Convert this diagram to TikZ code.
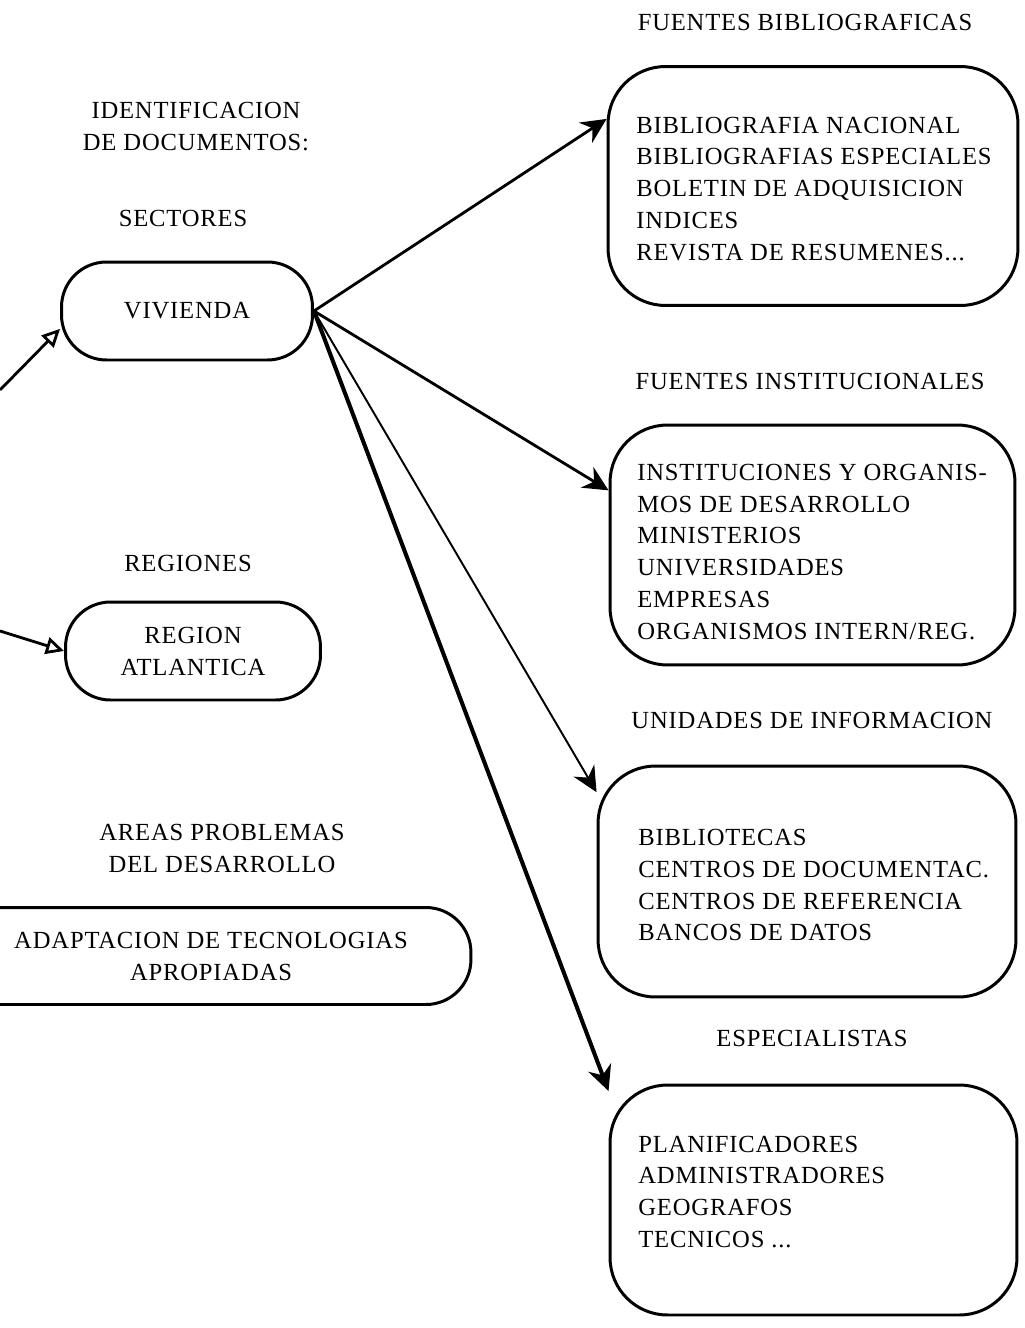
\documentclass[tikz,border=0pt]{standalone}
\usepackage{fontspec}
\setmainfont{Liberation Serif}[LetterSpace=3.4]
\usetikzlibrary{arrows.meta}

\tikzset{
  fuente/.style={draw, line width=1.7pt, rounded corners=1.15cm, inner sep=0pt},
  sector/.style={draw, line width=1.7pt, rounded corners=0.9cm, align=center, inner sep=0pt},
  titulo/.style={align=center, inner sep=0pt},
  lista/.style={align=left, anchor=west, inner sep=0pt},
  flecha/.style={line width=1.6pt, -{Stealth[length=0.5cm,width=0.48cm]}},
  entrada/.style={line width=1.6pt, -{Triangle[open,length=0.36cm,width=0.34cm,fill=white]}},
}

\begin{document}
\begin{tikzpicture}[x=0.02cm, y=-0.02cm, font=\fontsize{14}{18.2}\selectfont]
  \clip (0,0) rectangle (1024,1328);

  % left column: sectors, regions, problem areas
  \node[titulo] (ident) at (196,127) {IDENTIFICACION\\DE DOCUMENTOS:};
  \node[titulo] (sectores) at (183,218) {SECTORES};
  \node[sector, minimum width=5.02cm, minimum height=1.96cm] (vivienda) at (187,311) {VIVIENDA};

  \node[titulo] (regiones) at (188,563) {REGIONES};
  \node[sector, minimum width=5.1cm, minimum height=1.96cm] (region) at (193,651) {REGION\\ATLANTICA};

  \node[titulo] (areas) at (222,848) {AREAS PROBLEMAS\\DEL DESARROLLO};
  \node[sector, minimum width=10.4cm, minimum height=1.94cm] (adaptacion) at (211,956) {ADAPTACION DE TECNOLOGIAS\\APROPIADAS};

  % right column: the four kinds of sources
  \node[titulo] (tbib) at (805,22) {FUENTES BIBLIOGRAFICAS};
  \node[fuente, minimum width=8.2cm, minimum height=4.78cm] (box1) at (813,186) {};
  \node[lista] (lbib) at (636,189) {BIBLIOGRAFIA NACIONAL\\BIBLIOGRAFIAS ESPECIALES\\BOLETIN DE ADQUISICION\\INDICES\\REVISTA DE RESUMENES...};

  \node[titulo] (tinst) at (810,381) {FUENTES INSTITUCIONALES};
  \node[fuente, minimum width=8.1cm, minimum height=4.8cm] (box2) at (812.5,545) {};
  \node[lista] (linst) at (637,552) {INSTITUCIONES Y ORGANIS-\\MOS DE DESARROLLO\\MINISTERIOS\\UNIVERSIDADES\\EMPRESAS\\ORGANISMOS INTERN/REG.};

  \node[titulo] (tunid) at (812,720) {UNIDADES DE INFORMACION};
  \node[fuente, minimum width=8.36cm, minimum height=4.62cm] (box3) at (807,881.5) {};
  \node[lista] (lunid) at (638,885) {BIBLIOTECAS\\CENTROS DE DOCUMENTAC.\\CENTROS DE REFERENCIA\\BANCOS DE DATOS};

  \node[titulo] (tesp) at (812,1038) {ESPECIALISTAS};
  \node[fuente, minimum width=8.14cm, minimum height=4.6cm] (box4) at (813.5,1200) {};
  \node[lista] (lesp) at (638,1192) {PLANIFICADORES\\ADMINISTRADORES\\GEOGRAFOS\\TECNICOS ...};

  % arrows coming in from the left
  \coordinate (vivin) at (0,390);
  \coordinate (regin) at (0,631);
  \draw[entrada] (vivin) -- (vivienda.188);
  \draw[entrada] (regin) -- (region.west);

  % arrows going out to the sources
  \draw[flecha] (vivienda.east) -- (box1.162);
  \draw[flecha] (vivienda.east) -- (box2.165);
  \draw[flecha, line width=1.1pt] (vivienda.east) -- (box3.157);
  \draw[flecha, line width=2.3pt] (vivienda.east) -- (box4.152);
\end{tikzpicture}
\end{document}
